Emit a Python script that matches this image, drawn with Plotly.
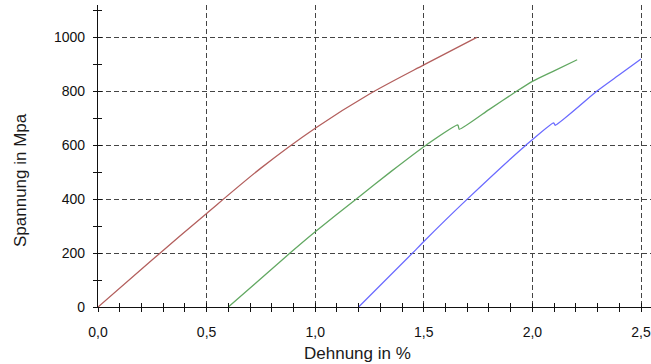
import plotly.graph_objects as go

# Data (Dehnung in %, Spannung in MPa)
red_x = [0.0, 0.25, 0.5, 0.75, 1.0, 1.25, 1.5, 1.744]
red_y = [0, 175, 347, 515, 663, 790, 898, 1000]

green_x = [0.6, 0.884, 1.0, 1.188, 1.35, 1.51, 1.657, 1.663, 1.8, 1.927, 2.0, 2.1, 2.206]
green_y = [0, 200, 279, 400, 503, 600, 675, 659, 732, 800, 837, 876, 917]

blue_x = [1.2, 1.448, 1.5, 1.7, 1.97, 2.098, 2.105, 2.296, 2.4, 2.5]
blue_y = [0, 200, 243, 400, 600, 683, 674, 800, 861, 920]

x_ticks = [0.0, 0.5, 1.0, 1.5, 2.0, 2.5]
y_ticks = [0, 200, 400, 600, 800, 1000]
x_title = "Dehnung in %"
y_title = "Spannung in Mpa"

X_RANGE = [0, 2.546]
Y_RANGE = [0, 1120]

fig = go.Figure()
fig.add_trace(go.Scatter(x=red_x, y=red_y, mode="lines",
                         line=dict(color="#b35f5d", width=1.3, shape="spline", smoothing=0.8),
                         showlegend=False))
fig.add_trace(go.Scatter(x=green_x, y=green_y, mode="lines",
                         line=dict(color="#62a862", width=1.3, shape="spline", smoothing=0.5),
                         showlegend=False))
fig.add_trace(go.Scatter(x=blue_x, y=blue_y, mode="lines",
                         line=dict(color="#6a6aff", width=1.3, shape="spline", smoothing=0.5),
                         showlegend=False))
# invisible trace to carry the overlay axes (inside ticks)
fig.add_trace(go.Scatter(x=[None], y=[None], xaxis="x2", yaxis="y2",
                         mode="lines", showlegend=False, hoverinfo="skip"))

tickfont = dict(family="Liberation Sans, Arial, sans-serif", size=14, color="#111")
gridcolor = "#444"

fig.update_layout(
    width=651, height=364,
    margin=dict(l=98, r=0, t=5, b=57),
    paper_bgcolor="white", plot_bgcolor="white",
    separators=",.",
    xaxis=dict(
        range=X_RANGE, tickvals=x_ticks, tickformat=".1f",
        showgrid=True, gridcolor=gridcolor, gridwidth=1, griddash="5px,3px",
        zeroline=False, showline=True, linecolor="#111", linewidth=1.2,
        ticks="outside", ticklen=4, tickcolor="#111", tickwidth=1,
        minor=dict(dtick=0.1, tick0=0, ticks="outside", ticklen=4,
                   tickcolor="#111", tickwidth=1, showgrid=False),
        tickfont=tickfont, ticklabelstandoff=8,
    ),
    yaxis=dict(
        range=Y_RANGE, tickvals=y_ticks,
        showgrid=True, gridcolor=gridcolor, gridwidth=1, griddash="5px,3px",
        zeroline=False, showline=True, linecolor="#111", linewidth=1.2,
        ticks="outside", ticklen=4, tickcolor="#111", tickwidth=1,
        minor=dict(dtick=100, tick0=0, ticks="outside", ticklen=4,
                   tickcolor="#111", tickwidth=1, showgrid=False),
        tickfont=tickfont, ticklabelstandoff=5,
    ),
    xaxis2=dict(
        range=X_RANGE, overlaying="x", anchor="y2", side="bottom",
        showgrid=False, zeroline=False, showline=False, showticklabels=False,
        tickvals=[round(0.1 * i, 1) for i in range(26)],
        ticks="inside", ticklen=4, tickcolor="#111", tickwidth=1,
    ),
    yaxis2=dict(
        range=Y_RANGE, overlaying="y", anchor="x2", side="left",
        showgrid=False, zeroline=False, showline=False, showticklabels=False,
        tickvals=[100 * i for i in range(12)],
        ticks="inside", ticklen=4, tickcolor="#111", tickwidth=1,
    ),
    annotations=[
        dict(text=x_title, xref="paper", yref="paper",
             x=(357 - 98) / 553, y=-(353 - 307) / 302,
             xanchor="center", yanchor="middle", showarrow=False,
             font=dict(family="Liberation Sans, Arial, sans-serif", size=17, color="#1a1a1a")),
        dict(text=y_title, xref="paper", yref="paper",
             x=-(98 - 20) / 553, y=(307 - 180) / 302, textangle=-90,
             xanchor="center", yanchor="middle", showarrow=False,
             font=dict(family="Liberation Sans, Arial, sans-serif", size=17, color="#1a1a1a")),
    ],
)

fig.write_html("out.html")
